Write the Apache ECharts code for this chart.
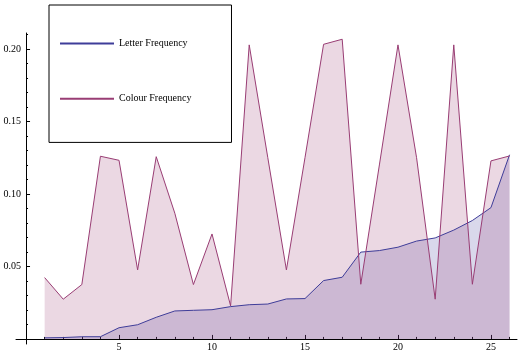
<!DOCTYPE html>
<html>
<head>
<meta charset="utf-8">
<script src="https://cdn.jsdelivr.net/npm/echarts@6/dist/echarts.min.js"></script>
<style>html,body{margin:0;padding:0;background:#fff;}#chart{width:527px;height:360px;}</style>
</head>
<body>
<div id="chart"></div>
<script>
var positions = [1,2,3,4,5,6,7,8,9,10,11,12,13,14,15,16,17,18,19,20,21,22,23,24,25,26];
var letterFrequency = [0.00074,0.00095,0.0015,0.00153,0.00772,0.00978,0.01492,0.01929,0.01974,0.02015,0.02228,0.0236,0.02406,0.02758,0.02782,0.04025,0.04253,0.05987,0.06094,0.06327,0.06749,0.06966,0.07507,0.08167,0.09056,0.12702];
var colourFrequency = [0.0423,0.0274,0.0375,0.126,0.1232,0.0476,0.1257,0.0867,0.0375,0.0724,0.0228,0.2028,0.125,0.0476,0.125,0.2032,0.2067,0.0377,0.12,0.2028,0.125,0.0274,0.2028,0.0377,0.1228,0.1262];
var xMajorTicks = [5,10,15,20,25];
var xMinorTicks = [1,2,3,4,5,6,7,8,9,10,11,12,13,14,15,16,17,18,19,20,21,22,23,24,25,26];
var yMajorTicks = [0.05,0.10,0.15,0.20];
var yMinorTicks = [0.01,0.02,0.03,0.04,0.05,0.06,0.07,0.08,0.09,0.10,0.11,0.12,0.13,0.14,0.15,0.16,0.17,0.18,0.19,0.20,0.21];

function pairs(xs, ys){ return xs.map(function(x,i){ return [x, ys[i]]; }); }

var font = 'Liberation Serif';
var chart = echarts.init(document.getElementById('chart'), null, {renderer:'canvas'});
var axisLineStyle = {color:'#000', width:1};
chart.setOption({
  animation:false,
  backgroundColor:'#fff',
  textStyle:{fontFamily:font},
  grid:{left:16, right:10, top:33, bottom:16, containLabel:false, outerBoundsMode:'none'},
  legend:{
    left:49, top:5, orient:'vertical',
    padding:[33,40,38,10],
    itemGap:44, itemWidth:54, itemHeight:14,
    borderColor:'#000', borderWidth:1, backgroundColor:'#fff',
    itemStyle:{opacity:0},
    textStyle:{fontFamily:font, fontSize:10, color:'#000'},
    data:['Letter Frequency','Colour Frequency']
  },
  xAxis:[{
    type:'value', min:-0.54, max:26.4,
    axisLine:{show:true, onZero:true, lineStyle:axisLineStyle},
    axisTick:{show:true, inside:true, length:4, customValues:xMajorTicks, lineStyle:{color:'#000'}},
    axisLabel:{show:true, customValues:xMajorTicks, margin:-2, fontFamily:font, fontSize:10, color:'#000'},
    splitLine:{show:false}
  },{
    type:'value', min:-0.54, max:26.4, position:'bottom',
    axisLine:{show:false, onZero:true},
    axisTick:{show:true, inside:true, length:2, customValues:xMinorTicks, lineStyle:{color:'#000'}},
    axisLabel:{show:false},
    splitLine:{show:false}
  }],
  yAxis:[{
    type:'value', min:-0.0035, max:0.211,
    axisLine:{show:true, onZero:true, lineStyle:axisLineStyle},
    axisTick:{show:true, inside:true, length:4, customValues:yMajorTicks, lineStyle:{color:'#000'}},
    axisLabel:{show:true, customValues:yMajorTicks, margin:-5, fontFamily:font, fontSize:10, color:'#000',
      formatter:function(v){ return v.toFixed(2); }},
    splitLine:{show:false}
  },{
    type:'value', min:-0.0035, max:0.211, position:'left',
    axisLine:{show:false, onZero:true},
    axisTick:{show:true, inside:true, length:2, customValues:yMinorTicks, lineStyle:{color:'#000'}},
    axisLabel:{show:false},
    splitLine:{show:false}
  }],
  series:[{
    name:'Letter Frequency', type:'line', xAxisIndex:0, yAxisIndex:0,
    data:pairs(positions, letterFrequency),
    symbol:'none', showSymbol:false,
    lineStyle:{color:'#3F3D99', width:1},
    itemStyle:{color:'#3F3D99'},
    areaStyle:{color:'#3F3D99', opacity:0.2}
  },{
    name:'Colour Frequency', type:'line', xAxisIndex:0, yAxisIndex:0,
    data:pairs(positions, colourFrequency),
    symbol:'none', showSymbol:false,
    lineStyle:{color:'#993D74', width:1},
    itemStyle:{color:'#993D74'},
    areaStyle:{color:'#993D74', opacity:0.2}
  }]
});
</script>
</body>
</html>
